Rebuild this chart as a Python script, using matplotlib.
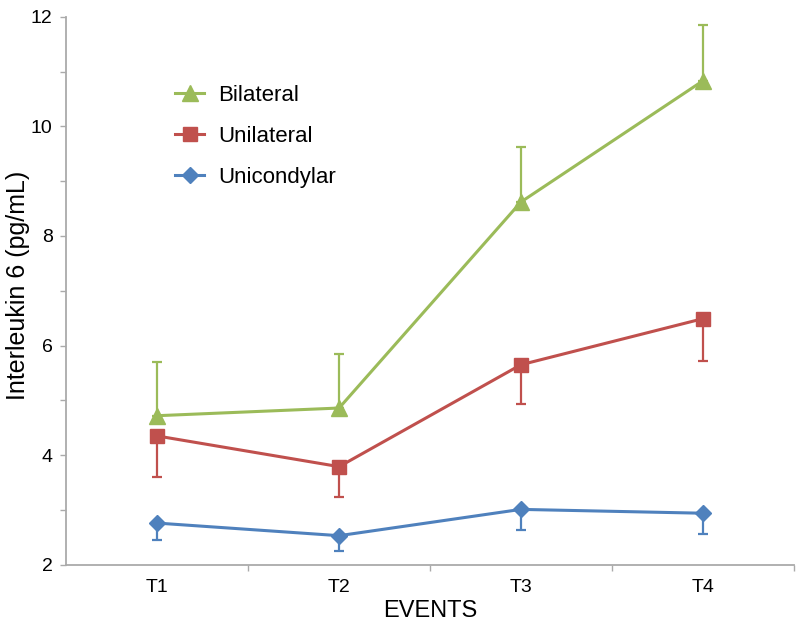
import matplotlib
matplotlib.use("Agg")
import matplotlib.pyplot as plt
import numpy as np

plt.rcParams["font.family"] = ["Liberation Sans", "DejaVu Sans"]

events = ["T1", "T2", "T3", "T4"]
bilateral = [4.72, 4.86, 8.62, 10.83]
bilateral_err = [0.98, 0.99, 1.0, 1.02]      # drawn upward
unilateral = [4.35, 3.79, 5.65, 6.49]
unilateral_err = [0.75, 0.56, 0.72, 0.77]    # drawn downward
unicondylar = [2.76, 2.53, 3.01, 2.94]
unicondylar_err = [0.30, 0.28, 0.37, 0.38]   # drawn downward

GREEN, RED, BLUE = "#9BBB59", "#C0504D", "#4F81BD"

fig = plt.figure(figsize=(8, 6.24), dpi=100)
ax = fig.add_axes([0.083, 0.095, 0.909, 0.878])
x = np.arange(len(events))

series = [
    ("Bilateral", bilateral, bilateral_err, GREEN, "^", 12, "up"),
    ("Unilateral", unilateral, unilateral_err, RED, "s", 10, "down"),
    ("Unicondylar", unicondylar, unicondylar_err, BLUE, "D", 8.5, "down"),
]
for name, y, e, c, m, ms, d in series:
    y = np.array(y); e = np.array(e)
    yerr = [np.zeros_like(e), e] if d == "up" else [e, np.zeros_like(e)]
    ax.errorbar(x, y, yerr=yerr, fmt="none", ecolor=c, elinewidth=1.6, capsize=3.5, capthick=1.6, zorder=2)
    ax.plot(x, y, "-", color=c, lw=2.2, marker=m, ms=ms, label=name, zorder=3)

ax.set_xlim(-0.5, 3.5)
ax.set_ylim(2, 12)
ax.set_xticks(x)
ax.set_xticklabels(events)
ax.set_xticks(x + 0.5, minor=True)
ax.set_yticks([2, 4, 6, 8, 10, 12])
ax.set_yticks([3, 5, 7, 9, 11], minor=True)
ax.tick_params(axis="both", which="major", labelsize=14, color="#aaaaaa", length=4, width=1, pad=6)
ax.tick_params(axis="both", which="minor", color="#aaaaaa", length=4, width=1)
ax.tick_params(axis="x", which="major", length=0, pad=10)
for s in ["top", "right"]:
    ax.spines[s].set_visible(False)
for s in ["left", "bottom"]:
    ax.spines[s].set_color("#aaaaaa")
    ax.spines[s].set_linewidth(1.3)

ax.set_xlabel("EVENTS", fontsize=17, labelpad=3)
ax.set_ylabel("Interleukin 6 (pg/mL)", fontsize=18)
ax.yaxis.set_label_coords(-0.05, 0.51)
ax.legend(loc="upper left", bbox_to_anchor=(0.122, 0.913), frameon=False, fontsize=16,
          handlelength=1.3, handletextpad=0.65, labelspacing=0.9)

fig.savefig("out.png", dpi=100, facecolor="white")
